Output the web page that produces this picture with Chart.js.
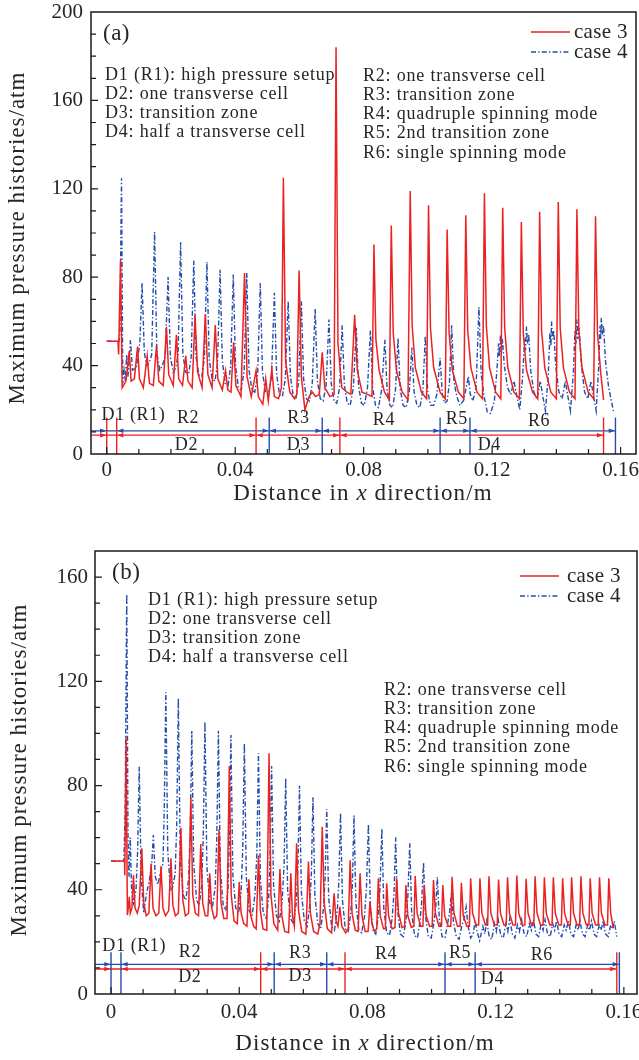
<!DOCTYPE html>
<html>
<head>
<meta charset="utf-8">
<script src="https://cdn.jsdelivr.net/npm/chart.js@4.4.0/dist/chart.umd.min.js"></script>
<style>
  html, body { margin: 0; padding: 0; background: #fff; }
  body { width: 639px; height: 1060px; position: relative; overflow: hidden; }
  #wrapA { position: absolute; left: 0; top: 0; }
  #wrapB { position: absolute; left: 0; top: 520px; }
</style>
</head>
<body>
<div id="wrapA"><canvas id="chartA" width="639" height="520"></canvas></div>
<div id="wrapB"><canvas id="chartB" width="639" height="540"></canvas></div>
<script>
// series names
const seriesNames = ['case 3', 'case 4'];

// panel (a): [x in m, pressure in atm]
const caseA3 = [
  [0,51],[0.0035,51],[0.0037,45],[0.0043,88],[0.0048,30],
  [0.0060,33],[0.0070,46.6],[0.0076,33],[0.0086,34],[0.0096,48.6],[0.0102,34],[0.0114,30],
  [0.0126,44.4],[0.0133,32],[0.0145,31],[0.0155,49.1],[0.0162,33],[0.0176,31],
  [0.0186,57.4],[0.0193,36],[0.0207,31],[0.0217,53.9],[0.0224,34],[0.0236,31],
  [0.0246,44.4],[0.0253,33],[0.0266,30],[0.0275,62.7],[0.0283,37],[0.0297,30],
  [0.0307,63.2],[0.0315,36],[0.0328,30],[0.0338,58.4],[0.0346,34],[0.0360,29],
  [0.0370,37.7],[0.0377,29],[0.0387,28],[0.0395,50.5],[0.0402,31],[0.0418,26],
  [0.0429,81.9],[0.0437,35],[0.0450,26],[0.0465,37.7],[0.0472,26],[0.0486,22.5],
  [0.0495,34],[0.0503,24],[0.0514,38.4],[0.0522,26],[0.0535,25],[0.0544,30],
  [0.0550,125],[0.0557,42],[0.0570,28],[0.0585,25],[0.0592,27],[0.0599,83],[0.0606,35],[0.0617,20],
  [0.0630,26],[0.0640,28],[0.0650,26],[0.0662,27],[0.0671,46],[0.0679,30],[0.0695,26],[0.0708,27],
  [0.0714,184],[0.0720,50],[0.0732,30],[0.0748,28],[0.0760,27],
  [0.0772,63],[0.0780,38],[0.0795,28],[0.0812,27],[0.0826,26],
  [0.0832,94.8],[0.0838,52],[0.0848,38],[0.0865,28],[0.0880,24.5],
  [0.0886,103.4],[0.0892,55],[0.0902,38],[0.0920,28],[0.0938,24.5],
  [0.0945,119],[0.0951,58],[0.0961,39],[0.0980,28],[0.0996,25],
  [0.1002,112.6],[0.1008,57],[0.1018,39],[0.1038,28],[0.1054,25],
  [0.1060,101.6],[0.1066,55],[0.1076,38],[0.1095,28],[0.1112,25],
  [0.1118,108],[0.1124,56],[0.1134,39],[0.1153,28],[0.1170,25],
  [0.1176,118],[0.1182,58],[0.1192,39],[0.1211,28],[0.1227,25],
  [0.1233,111.4],[0.1239,57],[0.1249,39],[0.1268,28],[0.1285,25],
  [0.1291,105],[0.1297,55],[0.1307,38],[0.1326,28],[0.1342,25],
  [0.1348,109.6],[0.1354,56],[0.1364,39],[0.1383,28],[0.1400,25],
  [0.1406,114],[0.1412,57],[0.1422,39],[0.1441,28],[0.1458,25],
  [0.1464,110.7],[0.1470,56],[0.1480,39],[0.1499,28],[0.1516,25],
  [0.1522,107.6],[0.1528,55],[0.1538,37],[0.1547,24.5]
];

const caseA4 = [
  [0,51],[0.0038,51],[0.0041,55],[0.0046,124.8],[0.0050,32],[0.0054,38],[0.0058,33],[0.0062,45],[0.0066,35],[0.0074,51.6],[0.0080,38],[0.0092,39],
  [0.0103,50],[0.0110,77.4],[0.0117,46],[0.0124,40],[0.0132,41],[0.0140,45],
  [0.0149,100.4],[0.0156,46],[0.0165,38],[0.0173,40],[0.0182,44],
  [0.0191,80.1],[0.0198,44],[0.0207,37],[0.0215,39],[0.0222,45],
  [0.0230,95.8],[0.0237,45],[0.0246,37],[0.0255,36],[0.0263,44],
  [0.0271,87.5],[0.0278,44],[0.0287,36],[0.0296,35],[0.0304,43],
  [0.0312,86.9],[0.0319,43],[0.0328,34],[0.0337,33],[0.0345,41],
  [0.0353,83.4],[0.0360,42],[0.0369,32],[0.0378,31],[0.0386,40],
  [0.0394,81.2],[0.0401,40],[0.0410,30],[0.0419,29],[0.0428,38],
  [0.0436,81.9],[0.0443,38],[0.0452,29],[0.0461,28],[0.0470,36],
  [0.0478,77.4],[0.0485,37],[0.0494,28],[0.0504,27],[0.0513,35],
  [0.0522,72.9],[0.0529,36],[0.0538,27],[0.0547,26],[0.0556,34],
  [0.0565,69.1],[0.0572,35],[0.0581,26],[0.0589,25],[0.0598,33],
  [0.0606,69.1],[0.0613,34],[0.0622,25],[0.0631,24],[0.0640,32],
  [0.0649,65.7],[0.0656,33],[0.0665,25],[0.0674,24],[0.0683,31],
  [0.0692,60.9],[0.0699,32],[0.0708,24],[0.0716,23],[0.0725,30],
  [0.0733,58.2],[0.0740,31],[0.0749,23],[0.0758,22],[0.0768,30],
  [0.0777,57.1],[0.0784,31],[0.0793,23],[0.0802,22],[0.0812,30],
  [0.0821,55.9],[0.0828,30],[0.0837,22],[0.0846,21],[0.0856,29],
  [0.0866,51.7],[0.0873,29],[0.0882,22],[0.0890,21],[0.0899,29],
  [0.0907,52.4],[0.0914,29],[0.0923,22],[0.0932,21],[0.0942,28],
  [0.0950,48.2],[0.0957,28],[0.0966,22],[0.0975,21],[0.0984,28],
  [0.0992,53.5],[0.0999,29],[0.1008,22],[0.1018,22],[0.1028,27],
  [0.1038,43.4],[0.1045,27],[0.1052,23],[0.1060,24],[0.1067,32],
  [0.1074,58.2],[0.1081,33],[0.1090,26],[0.1100,22],[0.1110,24],[0.1118,29],
  [0.1126,35.1],[0.1132,27],[0.1140,24],[0.1150,30],
  [0.1159,66.4],[0.1166,36],[0.1175,26],[0.1185,19],[0.1195,18.3],[0.1207,24],[0.1215,38],
  [0.1220,50],[0.1223,44],[0.1226,54],[0.1229,46],[0.1232,52],[0.1238,40],[0.1248,30],[0.1258,27],[0.1268,33],[0.1276,27],[0.1286,20],[0.1295,35],
  [0.1301,52],[0.1304,47],[0.1307,57.7],[0.1310,50],[0.1314,54],[0.1320,38],[0.1330,28],[0.1340,25],[0.1350,33],[0.1358,26],[0.1366,19.5],[0.1375,36],
  [0.1380,55],[0.1383,49],[0.1385,60],[0.1388,52],[0.1392,56],[0.1398,40],[0.1408,28],[0.1418,25],[0.1428,33],[0.1436,26],[0.1444,19.5],[0.1453,37],
  [0.1458,56],[0.1461,50],[0.1464,60.9],[0.1467,52],[0.1471,57],[0.1478,40],[0.1488,28],[0.1498,25],[0.1508,33],[0.1516,26],[0.1524,19.5],[0.1532,40],
  [0.1536,58],[0.1538,52],[0.1540,61.6],[0.1543,54],[0.1547,58],[0.1553,42],[0.1563,30],[0.1578,19.2]
];

// panel (b)
const caseB3 = [
  [0,51],[0.0042,51],[0.0043,45.6],[0.0047,98.7],[0.0051,30.3],[0.0054,33],[0.0057,37.3],[0.0060,31],[0.0065,33],[0.0070,45.6],[0.0075,33],[0.0082,31],[0.0088,34],
  [0.0096,55.9],[0.0102,35],[0.0110,30],[0.0118,31],[0.0125,50.1],[0.0131,33],[0.0140,30],[0.0149,31],
  [0.0156,49.1],[0.0162,33],[0.0170,30],[0.0180,32],[0.0187,52.1],[0.0193,34],[0.0201,30],[0.0210,31],
  [0.0218,63.8],[0.0224,36],[0.0232,30],[0.0242,31],[0.0249,75.4],[0.0255,38],[0.0263,31],[0.0273,30],
  [0.0280,57.6],[0.0286,35],[0.0294,30],[0.0302,30],[0.0308,46.3],[0.0314,33],[0.0322,29],[0.0330,30],
  [0.0337,63.2],[0.0343,35],[0.0352,29],[0.0362,29],[0.0369,87.5],[0.0375,38],[0.0384,28],[0.0394,27],
  [0.0400,43],[0.0406,31],[0.0414,27],[0.0424,26],[0.0430,44],[0.0436,30],[0.0445,26],[0.0453,25],
  [0.0460,53.1],[0.0466,32],[0.0474,25],[0.0486,24.5],[0.0493,92.4],[0.0499,38],[0.0508,27],[0.0520,24.5],
  [0.0527,48],[0.0533,30],[0.0542,24],[0.0554,23.5],[0.0561,46.3],[0.0566,30],[0.0572,26],[0.0579,57.8],[0.0585,32],[0.0595,24],[0.0608,23],
  [0.0616,50.8],[0.0622,31],[0.0632,24],[0.0645,23],[0.0652,27],[0.0659,64.2],[0.0665,35],[0.0675,25],[0.0688,23.5],
  [0.0696,38.6],[0.0702,28],[0.0708,26],[0.0714,33.5],[0.0720,26],[0.0732,23.5],[0.0740,25],
  [0.0746,51.3],[0.0752,31],[0.0762,24.5],[0.0771,24],[0.0777,46.3],[0.0783,30],[0.0793,24],[0.0802,24],
  [0.0808,35.4],[0.0814,27],[0.0822,24],[0.0829,25],[0.0834,44.4],[0.0840,30],[0.0850,25],[0.0856,25],
  [0.0860,42.5],[0.0866,30],[0.0877,25],[0.0886,25.5],[0.0891,44.4],[0.0897,31],[0.0908,25.5],[0.0916,26],
  [0.0920,41.8],[0.0926,30],[0.0937,25.5],[0.0945,26],[0.0949,45.3],[0.0955,31],[0.0966,26],[0.0973,26],
  [0.0977,41.8],[0.0983,30],[0.0994,26],[0.1002,26],[0.1006,43.7],[0.1012,31],[0.1023,26],[0.1031,26],
  [0.1035,41.8],[0.1041,30],[0.1052,26],[0.1060,26],[0.1064,45],[0.1070,31],[0.1081,26],[0.1089,26],
  [0.1093,42.7],[0.1099,30],[0.1110,26],[0.1118,26],[0.1122,44.4],[0.1128,31],[0.1139,26.5],[0.1147,26.5],
  [0.1151,44.4],[0.1157,31],[0.1168,26.5],[0.1175,26.5],[0.1179,45.2],[0.1185,31],[0.1196,26.5],[0.1205,26.5],
  [0.1209,43.9],[0.1215,31],[0.1226,26.5],[0.1233,26.5],[0.1237,44.8],[0.1243,31],[0.1254,26.5],[0.1262,26.5],
  [0.1266,45.5],[0.1272,31],[0.1283,26.5],[0.1291,26.5],[0.1295,44.2],[0.1301,31],[0.1312,26.5],[0.1319,26.5],
  [0.1323,45.2],[0.1329,31],[0.1340,26.5],[0.1348,26.5],[0.1352,44.8],[0.1358,31],[0.1369,26.5],[0.1376,26.5],
  [0.1380,44.8],[0.1386,31],[0.1397,26.5],[0.1405,26.5],[0.1409,44.4],[0.1415,31],[0.1426,26.5],[0.1433,26.5],
  [0.1437,44.8],[0.1443,31],[0.1454,26.5],[0.1462,26.5],[0.1466,45.2],[0.1472,31],[0.1483,26.5],[0.1491,26.5],
  [0.1495,44.4],[0.1501,31],[0.1512,26.5],[0.1520,26.5],[0.1524,44.8],[0.1530,31],[0.1541,26.5],[0.1549,26.5],
  [0.1553,44.4],[0.1559,31],[0.1567,25.2]
];

const caseB4 = [
  [0,51],[0.0040,51],[0.0044,70],[0.0049,153.4],[0.0053,60],[0.0056,45],[0.0060,60],[0.0064,40],[0.0070,35],[0.0078,40],[0.0083,55],
  [0.0088,87.2],[0.0094,45],[0.0102,31],[0.0110,38],[0.0120,44],[0.0127,50],
  [0.0132,61],[0.0138,45],[0.0146,42],[0.0153,46],[0.0162,50],[0.0166,70],
  [0.0171,115.8],[0.0177,55],[0.0185,40],[0.0192,41],[0.0200,46],[0.0205,65],
  [0.0210,113.5],[0.0216,52],[0.0225,38],[0.0233,36],[0.0242,44],[0.0247,62],
  [0.0252,100.9],[0.0258,50],[0.0267,36],[0.0275,34],[0.0283,42],[0.0288,62],
  [0.0293,104.5],[0.0299,49],[0.0308,35],[0.0316,33],[0.0325,41],[0.0330,60],
  [0.0335,101],[0.0341,48],[0.0350,34],[0.0358,32],[0.0365,40],[0.0369,58],
  [0.0374,99.4],[0.0380,46],[0.0389,33],[0.0398,31],[0.0406,39],[0.0411,56],
  [0.0416,96.2],[0.0422,45],[0.0431,32],[0.0440,30],[0.0449,38],[0.0455,54],
  [0.0460,92.4],[0.0466,44],[0.0475,31],[0.0484,29],[0.0492,37],[0.0496,52],
  [0.0501,87.5],[0.0507,42],[0.0516,30],[0.0525,28],[0.0534,36],[0.0540,50],
  [0.0545,82.8],[0.0551,40],[0.0560,29],[0.0569,27],[0.0578,35],[0.0583,48],
  [0.0588,79.9],[0.0594,39],[0.0603,28],[0.0612,26],[0.0620,34],[0.0625,46],
  [0.0630,75.5],[0.0636,38],[0.0645,27],[0.0654,25],[0.0663,33],[0.0668,45],
  [0.0673,71],[0.0679,37],[0.0688,26],[0.0697,24.5],[0.0706,32],[0.0711,44],
  [0.0716,69.5],[0.0722,36],[0.0731,25],[0.0740,24],[0.0748,31],[0.0753,42],
  [0.0758,68.5],[0.0764,35],[0.0773,24.5],[0.0782,23.5],[0.0791,30],[0.0797,41],
  [0.0803,65.2],[0.0809,34],[0.0818,24],[0.0826,23],[0.0834,30],[0.0839,40],
  [0.0845,63.4],[0.0851,33],[0.0860,23.5],[0.0869,22.5],[0.0877,29],[0.0883,39],
  [0.0888,60.1],[0.0894,32],[0.0903,23],[0.0912,22],[0.0920,28],[0.0926,37],
  [0.0932,57.8],[0.0938,31],[0.0947,22.5],[0.0956,21.5],[0.0964,28],[0.0969,35],
  [0.0975,50.4],[0.0981,30],[0.0990,22],[0.0999,21.5],[0.1007,27],[0.1013,33],
  [0.1018,44.9],[0.1024,29],[0.1033,22],[0.1042,21.5],[0.1050,27],[0.1056,31],
  [0.1062,38.6],[0.1068,28],[0.1077,22],[0.1086,21],[0.1094,26],[0.1102,29],
  [0.1108,33.4],[0.1114,26],[0.1122,21.5],[0.1130,23],[0.1136,28],[0.1142,24],[0.1150,20.5],
  [0.1160,26],[0.1166,23],[0.1172,28],[0.1180,22],[0.1188,21],[0.1196,27],[0.1202,24],[0.1208,28.5],
  [0.1216,22.5],[0.1224,21.5],[0.1232,27],[0.1238,24],[0.1244,29],[0.1252,23],[0.1260,21.5],[0.1268,26.5],
  [0.1274,24],[0.1281,28.5],[0.1289,23],[0.1297,22],[0.1305,27],[0.1311,24.5],[0.1318,28.5],[0.1326,23],
  [0.1334,22],[0.1342,27],[0.1348,24.5],[0.1354,28.5],[0.1362,23],[0.1370,22],[0.1378,27],[0.1384,24.5],
  [0.1390,28],[0.1398,23],[0.1406,22],[0.1414,26.5],[0.1420,24.5],[0.1427,28],[0.1435,23],[0.1443,22],
  [0.1451,26.5],[0.1457,24.5],[0.1463,28],[0.1471,23],[0.1479,22],[0.1487,26.5],[0.1493,24.5],[0.1499,28],
  [0.1507,23],[0.1515,22],[0.1523,26.5],[0.1529,24.5],[0.1535,28],[0.1543,23],[0.1551,22],[0.1559,26.5],
  [0.1565,25],[0.1570,28],[0.1578,22]
];

// zone boundaries (m)
const aDBreaks = [0, 0.0031, 0.0465, 0.0726, 0.1547];
const aRBreaks = [0, 0.0031, 0.0506, 0.0671, 0.1038, 0.1131, 0.1584];
const aRedMarks = [0, 0.0031, 0.0465, 0.0726, 0.1547];
const aBlueMarks = [0.0506, 0.0671, 0.1038, 0.1131, 0.1584];
const bDBreaks = [0, 0.0031, 0.0467, 0.0730, 0.1578];
const bRBreaks = [0, 0.0031, 0.0509, 0.0673, 0.1042, 0.1136, 0.1586];
const bRedMarks = [0.0467, 0.0730, 0.1578];
const bBlueMarks = [0, 0.0031, 0.0509, 0.0673, 0.1042, 0.1136, 0.1586];

// zone names
const zoneNames = ['D1 (R1)', 'R2', 'R3', 'R4', 'R5', 'R6', 'D2', 'D3', 'D4'];

// tick labels
const xTickVals = [0, 0.04, 0.08, 0.12, 0.16];
const xTickText = ['0', '0.04', '0.08', '0.12', '0.16'];
const aYTickVals = [0, 40, 80, 120, 160, 200];
const bYTickVals = [0, 40, 80, 120, 160];

const notesLeft = ['D1 (R1): high pressure setup', 'D2: one transverse cell', 'D3: transition zone', 'D4: half a transverse cell'];
const notesRight = ['R2: one transverse cell', 'R3: transition zone', 'R4: quadruple spinning mode', 'R5: 2nd transition zone', 'R6: single spinning mode'];

const RED = 'rgb(236, 34, 34)';
const BLUE = 'rgb(36, 76, 170)';
const INK = '#262626';
const SERIF = '"Liberation Serif", "Times New Roman", serif';
const DASHDOT = [5, 2.2, 1.4, 2.2];

const toPts = arr => arr.map(p => ({ x: p[0], y: p[1] }));

function font(ctx, size, italic) {
  ctx.font = (italic ? 'italic ' : '') + size + 'px ' + SERIF;
}

function txt(ctx, s, x, y, size, align, ls, base) {
  font(ctx, size, false);
  ctx.letterSpacing = (ls || 0) + 'px';
  ctx.textAlign = align || 'left';
  ctx.textBaseline = base || 'middle';
  ctx.fillText(s, x, y);
}

function arrowHead(ctx, tip, y, dir) {
  ctx.beginPath();
  ctx.moveTo(tip, y);
  ctx.lineTo(tip - dir * 6, y - 2.3);
  ctx.lineTo(tip - dir * 6, y + 2.3);
  ctx.closePath();
  ctx.fill();
}

const onStep = (v, step) => Math.abs(v / step - Math.round(v / step)) < 1e-6;

function decorations(p) {
  return {
    id: 'decor' + p.tag,
    afterDatasetsDraw(chart) {
      const ctx = chart.ctx, a = chart.chartArea;
      const sx = chart.scales.x, sy = chart.scales.y;
      const X = v => sx.getPixelForValue(v), Y = v => sy.getPixelForValue(v);
      ctx.save();

      // arrow heads on the zone lines
      [[p.dBreaks, p.dLevel, RED], [p.rBreaks, p.rLevel, BLUE]].forEach(([br, lv, col]) => {
        ctx.fillStyle = col;
        const y = Y(lv);
        arrowHead(ctx, X(br[0]) - 0.7, y, 1);
        for (let i = 1; i < br.length - 1; i++) {
          arrowHead(ctx, X(br[i]) + 0.7, y, -1);
          arrowHead(ctx, X(br[i + 1]) - 0.7, y, 1);
        }
      });

      // zone names
      ctx.fillStyle = INK;
      p.zoneSpots.forEach((z, i) => {
        txt(ctx, zoneNames[i], X(z[0]), Y(z[1]), 18, i === 0 ? 'left' : 'center', 0.6);
      });

      // frame
      ctx.strokeStyle = '#1a1a1a';
      ctx.lineWidth = 1.5;
      ctx.strokeRect(a.left, a.top, a.right - a.left, a.bottom - a.top);

      // inward ticks
      ctx.lineWidth = 1.2;
      ctx.beginPath();
      sx.ticks.forEach(t => {
        if (t.value < sx.min || t.value > sx.max) return;
        const px = X(t.value), len = onStep(t.value, 0.04) ? 7 : 5;
        ctx.moveTo(px, a.bottom); ctx.lineTo(px, a.bottom - len);
      });
      sy.ticks.forEach(t => {
        if (t.value <= sy.min || t.value >= sy.max) return;
        const py = Y(t.value), len = onStep(t.value, 40) ? 7 : 5;
        ctx.moveTo(a.left, py); ctx.lineTo(a.left + len, py);
      });
      ctx.stroke();

      // tick labels
      ctx.fillStyle = INK;
      xTickVals.forEach((v, i) => txt(ctx, xTickText[i], X(v), a.bottom + p.xLabGap, 21, 'center', 0, 'alphabetic'));
      p.yTickVals.forEach(v => txt(ctx, String(v), a.left - p.yLabGap, Y(v), 21, 'right', 0));

      // x title with italic x
      const runs = [['Distance in ', false], ['x', true], [' direction/m', false]];
      ctx.letterSpacing = '1.1px';
      let total = 0;
      runs.forEach(r => { font(ctx, 23, r[1]); total += ctx.measureText(r[0]).width; });
      let cx = p.xTitle[0] - total / 2;
      ctx.textAlign = 'left'; ctx.textBaseline = 'alphabetic';
      runs.forEach(r => { font(ctx, 23, r[1]); ctx.fillText(r[0], cx, p.xTitle[1]); cx += ctx.measureText(r[0]).width; });

      // y title
      ctx.save();
      ctx.translate(p.yTitle[0], p.yTitle[1]);
      ctx.rotate(-Math.PI / 2);
      txt(ctx, 'Maximum pressure histories/atm', 0, 0, 23, 'center', 1.0);
      ctx.restore();

      // legend
      ctx.lineWidth = 1.6;
      [[RED, []], [BLUE, DASHDOT]].forEach((s, i) => {
        const ly = p.legend[2] + i * 20;
        ctx.strokeStyle = s[0];
        ctx.setLineDash(s[1]);
        ctx.beginPath(); ctx.moveTo(p.legend[0], ly); ctx.lineTo(p.legend[1], ly); ctx.stroke();
        ctx.setLineDash([]);
        ctx.fillStyle = INK;
        txt(ctx, seriesNames[i], p.legend[3], ly, 21, 'left', 0.3);
      });

      // panel letter and notes
      txt(ctx, p.letter, p.letterPos[0], p.letterPos[1], 23, 'left', 0.5);
      notesLeft.forEach((s, i) => txt(ctx, s, p.notesL[0], p.notesL[1] + i * 19, 18, 'left', 0.8));
      notesRight.forEach((s, i) => txt(ctx, s, p.notesR[0], p.notesR[1] + i * 19.2, 18, 'left', 0.8));

      ctx.restore();
    }
  };
}

function markLines(marks, top, color) {
  return marks.map(v => ({
    data: [{ x: v, y: 0 }, { x: v, y: top }],
    borderColor: color, borderWidth: 1.4, showLine: true, pointRadius: 0
  }));
}

function makeChart(id, p) {
  const datasets = [
    { label: seriesNames[0], data: toPts(p.s3), borderColor: RED, borderWidth: 1.5, showLine: true, pointRadius: 0 },
    { label: seriesNames[1], data: toPts(p.s4), borderColor: BLUE, borderWidth: 1.4, borderDash: DASHDOT, showLine: true, pointRadius: 0 },
    ...markLines(p.blueMarks, p.markTop, BLUE),
    ...markLines(p.redMarks, p.markTop, RED),
    { data: [{ x: p.xMin, y: p.rLevel }, { x: p.rBreaks[p.rBreaks.length - 1], y: p.rLevel }], borderColor: BLUE, borderWidth: 1.3, showLine: true, pointRadius: 0 },
    { data: [{ x: p.xMin, y: p.dLevel }, { x: p.dBreaks[p.dBreaks.length - 1], y: p.dLevel }], borderColor: RED, borderWidth: 1.3, showLine: true, pointRadius: 0 }
  ];
  return new Chart(document.getElementById(id), {
    type: 'scatter',
    data: { datasets: datasets },
    options: {
      responsive: false,
      animation: false,
      events: [],
      layout: { padding: p.pad },
      plugins: { legend: { display: false }, tooltip: { enabled: false } },
      elements: { line: { tension: 0 }, point: { radius: 0 } },
      scales: {
        x: {
          type: 'linear', min: p.xMin, max: p.xMax,
          ticks: { display: false, stepSize: 0.01, includeBounds: false },
          grid: { display: false }, border: { display: false },
          afterFit: s => { s.height = p.xAxisH; }
        },
        y: {
          type: 'linear', min: 0, max: p.yMax,
          ticks: { display: false, stepSize: 10, includeBounds: false },
          grid: { display: false }, border: { display: false },
          afterFit: s => { s.width = p.yAxisW; }
        }
      }
    },
    plugins: [decorations(p)]
  });
}

makeChart('chartA', {
  tag: 'A', s3: caseA3, s4: caseA4,
  xMin: -0.0049, xMax: 0.1648, yMax: 200,
  pad: { left: 0, top: 12, right: 3, bottom: 0 }, xAxisH: 66, yAxisW: 91,
  dBreaks: aDBreaks, rBreaks: aRBreaks, redMarks: aRedMarks, blueMarks: aBlueMarks,
  dLevel: 8.5, rLevel: 10.5, markTop: 16.5,
  zoneSpots: [[-0.0016, 17.7], [0.0253, 16.2], [0.0597, 16], [0.0863, 15.4], [0.109, 15.7], [0.1346, 15], [0.0248, 4.1], [0.0597, 4.1], [0.1191, 4.1]],
  yTickVals: aYTickVals, xLabGap: 22, yLabGap: 8,
  xTitle: [363, 500], yTitle: [18, 238],
  legend: [531, 570, 32, 574],
  letter: '(a)', letterPos: [103, 34],
  notesL: [105, 75], notesR: [363, 76]
});

makeChart('chartB', {
  tag: 'B', s3: caseB3, s4: caseB4,
  xMin: -0.0050, xMax: 0.1641, yMax: 170,
  pad: { left: 0, top: 31, right: 2, bottom: 0 }, xAxisH: 66, yAxisW: 95,
  dBreaks: bDBreaks, rBreaks: bRBreaks, redMarks: bRedMarks, blueMarks: bBlueMarks,
  dLevel: 9.6, rLevel: 11.4, markTop: 16,
  zoneSpots: [[-0.0027, 18.2], [0.0246, 16.2], [0.059, 15.6], [0.0858, 15.3], [0.1089, 15.7], [0.1344, 14.9], [0.0246, 6.4], [0.059, 6.9], [0.119, 5.8]],
  yTickVals: bYTickVals, xLabGap: 24, yLabGap: 7,
  xTitle: [365, 530], yTitle: [20, 250],
  legend: [520, 559, 56, 567],
  letter: '(b)', letterPos: [112, 53],
  notesL: [148, 80], notesR: [384, 170]
});
</script>
</body>
</html>
